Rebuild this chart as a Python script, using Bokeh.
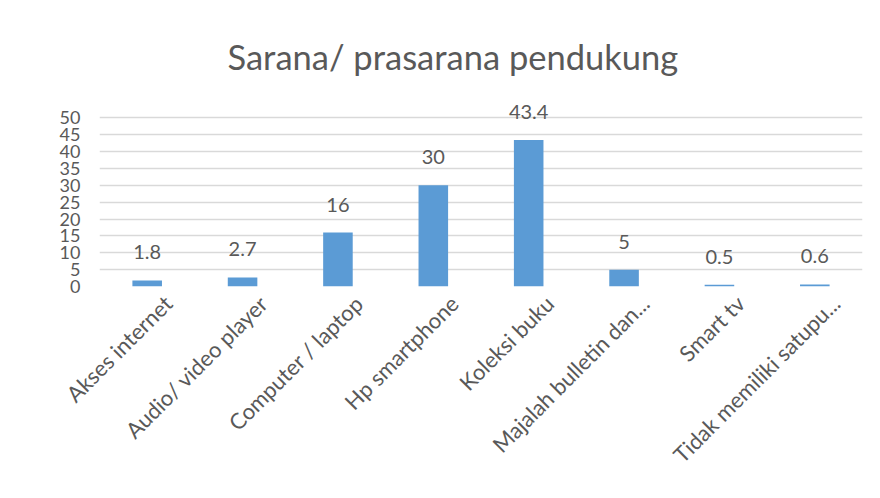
import math
from bokeh.plotting import figure
from bokeh.models import ColumnDataSource, LabelSet, Range1d, LinearAxis, FixedTicker
from bokeh.core.properties import value
from bokeh.embed import file_html
from bokeh.resources import INLINE

categories = ["Akses internet", "Audio/ video player", "Computer / laptop", "Hp smartphone",
              "Koleksi buku", "Majalah bulletin dan...", "Smart tv", "Tidak memiliki satupu..."]
values = [1.8, 2.7, 16, 30, 43.4, 5, 0.5, 0.6]
value_labels = ["1.8", "2.7", "16", "30", "43.4", "5", "0.5", "0.6"]
y_ticks = [0, 5, 10, 15, 20, 25, 30, 35, 40, 45, 50]

FONT = "Lato"
TXT = "#595959"

pos = [i + 1 for i in range(len(categories))]
src = ColumnDataSource(dict(pos=pos, cat=categories, val=values, lab=value_labels))

p = figure(x_range=Range1d(0.5, len(categories) + 0.5), y_range=Range1d(0, 56),
           width=870, height=492, output_backend="svg", toolbar_location=None,
           min_border_left=99, min_border_right=8, min_border_top=97, min_border_bottom=206)

p.title.text = "Sarana/ prasarana pendukung"
p.title.align = "left"
p.title.offset = 128
p.title.text_font = FONT
p.title.text_font_size = "34.5px"
p.title.text_font_style = "normal"
p.title.text_color = TXT
p.title.standoff = 41

p.vbar(x="pos", top="val", width=0.31, source=src, color="#5b9bd5", line_color=None)

labels = LabelSet(x="pos", y="val", text="lab", source=src, y_offset=28,
                  text_align="center", text_baseline="middle",
                  text_font=value(FONT), text_font_size="20px", text_color=TXT)
p.add_layout(labels)

p.yaxis.ticker = y_ticks
p.yaxis.axis_line_color = None
p.yaxis.major_tick_line_color = None
p.yaxis.minor_tick_line_color = None
p.yaxis.major_label_text_font = FONT
p.yaxis.major_label_text_font_size = "18px"
p.yaxis.major_label_text_color = TXT
p.yaxis.major_label_standoff = 13

# category labels on a slightly shifted range (label anchor like the original)
p.xaxis.visible = False
shift = 0.22
p.extra_x_ranges = {"lab": Range1d(0.5 - shift, len(categories) + 0.5 - shift)}
lab_axis = LinearAxis(x_range_name="lab", ticker=FixedTicker(ticks=pos),
                      major_label_overrides={t: c for t, c in zip(pos, categories)})
lab_axis.axis_line_color = None
lab_axis.major_tick_line_color = None
lab_axis.minor_tick_line_color = None
lab_axis.major_tick_out = 0
lab_axis.major_tick_in = 0
lab_axis.major_label_orientation = math.pi / 4
lab_axis.major_label_text_font = FONT
lab_axis.major_label_text_font_size = "22px"
lab_axis.major_label_text_color = TXT
lab_axis.major_label_standoff = 13
p.add_layout(lab_axis, "below")

p.xgrid.grid_line_color = None
p.ygrid.grid_line_color = "#d9d9d9"
p.ygrid.grid_line_width = 1.5
p.outline_line_color = None

open("out.html", "w").write(file_html(p, INLINE))
